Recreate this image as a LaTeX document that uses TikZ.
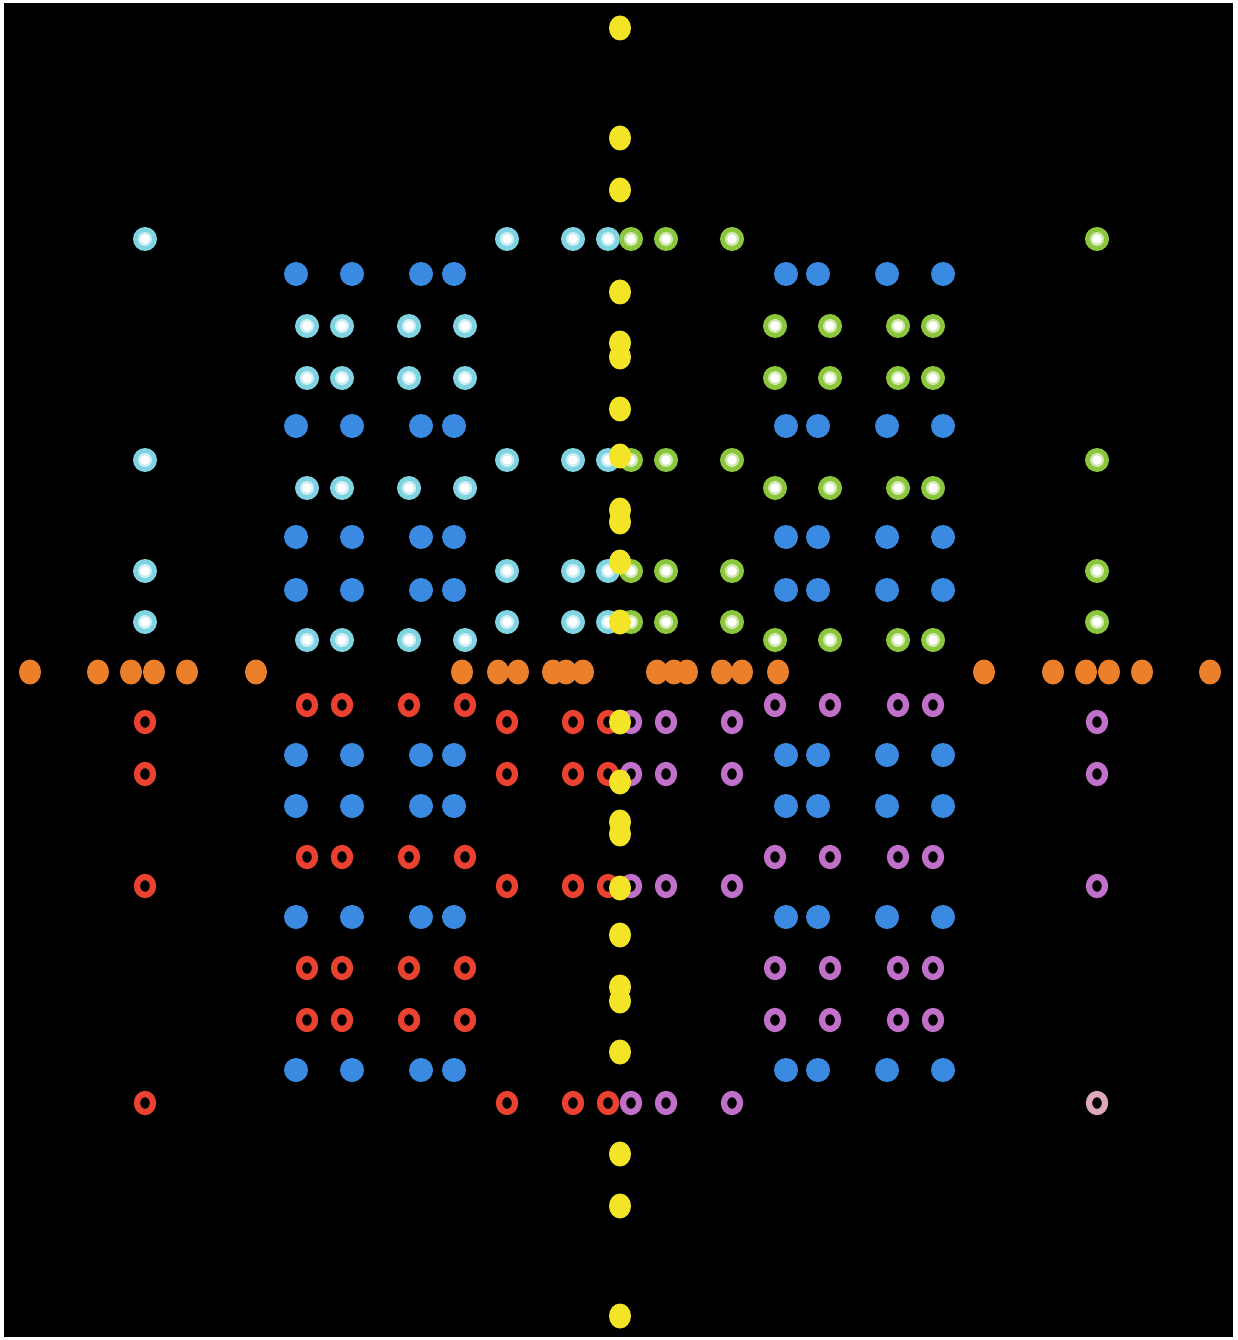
\documentclass[tikz,border=0pt]{standalone}
\begin{document}
\begin{tikzpicture}[x=0.2mm,y=-0.2mm,
  bluedot/.style={fill=dotblue},
  orangedot/.style={fill=dotorange},
  yellowdot/.style={fill=dotyellow},
  ringdot/.style={draw=#1,line width=1.25mm},
]
\definecolor{dotblue}{RGB}{58,138,226}
\definecolor{dotorange}{RGB}{236,128,42}
\definecolor{dotyellow}{RGB}{244,228,40}
\definecolor{dotcyan}{RGB}{128,212,226}
\definecolor{dotgreen}{RGB}{140,198,60}
\definecolor{dotred}{RGB}{234,66,48}
\definecolor{dotpurple}{RGB}{192,112,200}
\definecolor{dotpink}{RGB}{222,168,184}
\useasboundingbox (0,0) rectangle (1237,1340);
\fill[white] (0,0) rectangle (1237,1340);
\fill[black] (4,3) rectangle (1233,1337);
% blue filled dots
\foreach \x in {296,352,421,454,786,818,887,943}
  \foreach \y in {274,426,537,590,755,806,917,1070}
    \fill[bluedot] (\x,\y) circle[radius=2.4mm];
% orange row
\foreach \d in {37,54,67,102,122,158,364,433,466,489,522,590} {
  \fill[orangedot] (620-\d,672) ellipse[x radius=2.2mm,y radius=2.5mm];
  \fill[orangedot] (620+\d,672) ellipse[x radius=2.2mm,y radius=2.5mm];
}
% cyan (upper left) and green (upper right) dots with white centres
\foreach \c/\xs in {dotcyan/{145,507,573,608},dotgreen/{631,666,732,1097}}
  \foreach \x in \xs
    \foreach \y in {239,460,571,622} {
      \fill[\c] (\x,\y) circle[radius=2.4mm];
      \fill[white!60!\c] (\x,\y) circle[radius=1.4mm];
      \fill[white] (\x,\y) circle[radius=0.95mm];
    }
\foreach \c/\xs in {dotcyan/{307,342,409,465},dotgreen/{775,830,898,933}}
  \foreach \x in \xs
    \foreach \y in {326,378,488,640} {
      \fill[\c] (\x,\y) circle[radius=2.4mm];
      \fill[white!60!\c] (\x,\y) circle[radius=1.4mm];
      \fill[white] (\x,\y) circle[radius=0.95mm];
    }
% red (lower left) and purple (lower right) rings
\foreach \c/\xs in {dotred/{145,507,573,608},dotpurple/{631,666,732}}
  \foreach \x in \xs
    \foreach \y in {722,774,886,1103}
      \draw[ringdot=\c] (\x,\y) ellipse[x radius=1.6mm,y radius=1.8mm];
\foreach \y in {722,774,886}
  \draw[ringdot=dotpurple] (1097,\y) ellipse[x radius=1.6mm,y radius=1.8mm];
\draw[ringdot=dotpink] (1097,1103) ellipse[x radius=1.6mm,y radius=1.8mm];
\foreach \c/\xs in {dotred/{307,342,409,465},dotpurple/{775,830,898,933}}
  \foreach \x in \xs
    \foreach \y in {705,857,968,1020}
      \draw[ringdot=\c] (\x,\y) ellipse[x radius=1.6mm,y radius=1.8mm];
% yellow column
\foreach \d in {50,110,150,162,216,263,315,329,380,482,534,644} {
  \fill[yellowdot] (620,672-\d) ellipse[x radius=2.2mm,y radius=2.5mm];
  \fill[yellowdot] (620,672+\d) ellipse[x radius=2.2mm,y radius=2.5mm];
}
\end{tikzpicture}
\end{document}
